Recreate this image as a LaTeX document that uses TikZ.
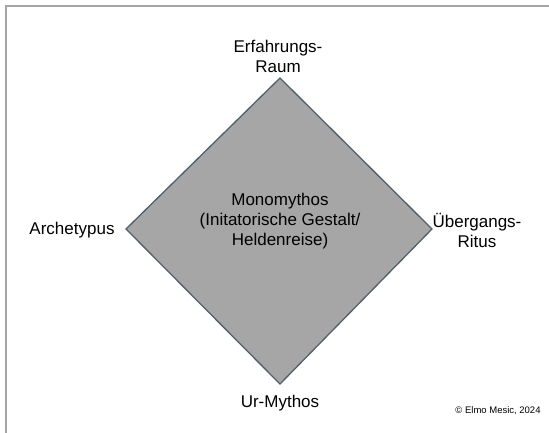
\documentclass[tikz,border=0pt]{standalone}
\usepackage{fontspec}
\setmainfont{Liberation Sans}
\begin{document}
\begin{tikzpicture}[x=1pt,y=-1pt,
  lbl/.style={font=\fontsize{17}{20}\selectfont, align=center, inner sep=0pt},
  dia/.style={fill=diafill, draw=diaedge, line width=1.3pt, line join=miter},
  frameline/.style={draw=framegray, line width=1.2pt}]
\definecolor{diafill}{RGB}{166,166,166}
\definecolor{diaedge}{RGB}{80,96,106}
\definecolor{framegray}{RGB}{165,165,165}
\useasboundingbox (0,0) rectangle (549,433);
\fill[white] (0,0) rectangle (549,433);
\draw[frameline] (6,433) -- (6,6) -- (549,6);
\coordinate (T) at (280,78);
\coordinate (R) at (432,229);
\coordinate (B) at (280,384);
\coordinate (L) at (126,229);
\path[dia] (T) -- (R) -- (B) -- (L) -- cycle;
\node[lbl] (center) at (280,221) {Monomythos\\(Initatorische Gestalt/\\Heldenreise)};
\node[lbl] (top) at (278,56) {Erfahrungs-\\Raum};
\node[lbl] (left) at (72,230) {Archetypus};
\node[lbl] (right) at (477,230) {Übergangs-\\Ritus};
\node[lbl] (bottom) at (280,403) {Ur-Mythos};
\node[font=\fontsize{9.5}{11}\selectfont, inner sep=0pt] (copy) at (498,411) {© Elmo Mesic, 2024};
\end{tikzpicture}
\end{document}
